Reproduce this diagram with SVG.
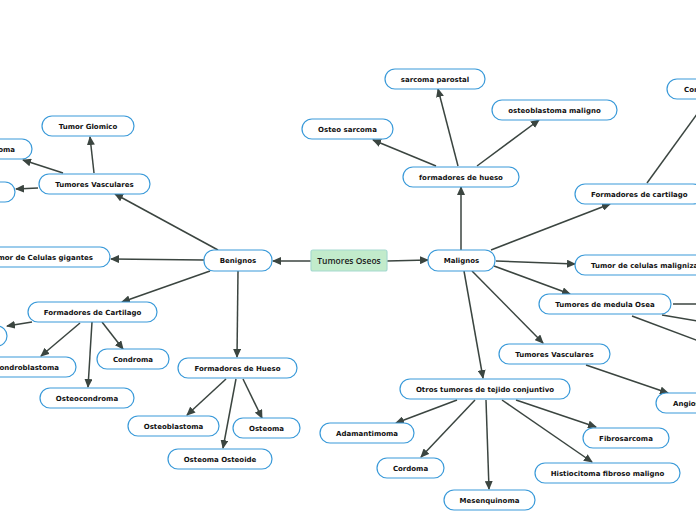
<svg xmlns="http://www.w3.org/2000/svg" width="696" height="520" viewBox="0 0 696 520">
<defs>
<marker id="ah" markerUnits="userSpaceOnUse" markerWidth="9" markerHeight="8" refX="8" refY="4" orient="auto">
<path d="M0,0 L9,4 L0,8 z" fill="#3b4540"/>
</marker>
</defs>
<style>
.n rect{fill:#fff;stroke:#3a9ad9;stroke-width:1.2}
.n text{font-family:"DejaVu Sans",Verdana,sans-serif;font-weight:bold;font-size:7px;fill:#111;text-anchor:middle}
.n text.s{text-anchor:start}
.n text.e{text-anchor:end}
.c line{stroke:#3b4540;stroke-width:1.5;marker-end:url(#ah)}
.c line.x{marker-end:none}
</style>
<rect width="696" height="520" fill="#fff"/>
<g class="c">
<line x1="311" y1="261" x2="273" y2="261"/>
<line x1="387" y1="261" x2="428" y2="260"/>
<line x1="218" y1="250" x2="115" y2="194"/>
<line x1="94" y1="173" x2="90" y2="137"/>
<line x1="63" y1="173" x2="23" y2="160"/>
<line x1="38" y1="188" x2="16" y2="189"/>
<line x1="204" y1="260" x2="111" y2="259"/>
<line x1="210" y1="271" x2="122" y2="302"/>
<line x1="32" y1="322" x2="7" y2="326"/>
<line x1="80" y1="323" x2="41" y2="356"/>
<line x1="92" y1="322" x2="88" y2="387"/>
<line x1="102" y1="322" x2="123" y2="349"/>
<line x1="238" y1="271" x2="237" y2="357"/>
<line x1="226" y1="379" x2="187" y2="415"/>
<line x1="243" y1="379" x2="262" y2="418"/>
<line x1="236" y1="379" x2="223" y2="448"/>
<line x1="461" y1="250" x2="461" y2="187"/>
<line x1="436" y1="166" x2="373" y2="140"/>
<line x1="458" y1="166" x2="438" y2="89"/>
<line x1="477" y1="166" x2="539" y2="120"/>
<line x1="491" y1="250" x2="610" y2="204"/>
<line x1="647" y1="183" x2="708" y2="99"/>
<line x1="496" y1="261" x2="575" y2="264"/>
<line x1="494" y1="266" x2="570" y2="294"/>
<line class="x" x1="673" y1="304" x2="720" y2="304"/>
<line class="x" x1="662" y1="315" x2="720" y2="325"/>
<line class="x" x1="632" y1="316" x2="720" y2="349"/>
<line x1="472" y1="271" x2="543" y2="343"/>
<line x1="586" y1="365" x2="668" y2="393"/>
<line x1="464" y1="271" x2="483" y2="378"/>
<line x1="457" y1="400" x2="396" y2="423"/>
<line x1="475" y1="400" x2="421" y2="457"/>
<line x1="486" y1="400" x2="489" y2="489"/>
<line x1="502" y1="400" x2="592" y2="462"/>
<line x1="516" y1="400" x2="596" y2="427"/>
</g>
<g id="root">
<rect x="311" y="250" width="76" height="21" rx="2" fill="#c2ebcb" stroke="#a6d9cf" stroke-width="1.2"/>
<text x="349" y="263.5" font-family="'Open Sans',sans-serif" font-weight="600" font-size="8.5" fill="#1a1a1a" text-anchor="middle">Tumores Oseos</text>
</g>
<g id="benignos" class="n"><rect x="204" y="250" width="68" height="21" rx="10"/><text x="238" y="263">Benignos</text></g>
<g id="malignos" class="n"><rect x="428" y="250" width="67" height="21" rx="10"/><text x="461.5" y="263">Malignos</text></g>
<g id="tv-left" class="n"><rect x="39" y="174" width="111" height="20" rx="10"/><text x="94.5" y="186.5">Tumores Vasculares</text></g>
<g id="glomico" class="n"><rect x="42" y="116" width="92" height="20" rx="10"/><text x="88" y="128.5">Tumor Glomico</text></g>
<g id="hemangioma" class="n"><rect x="-54" y="139" width="86" height="20" rx="10"/><text class="e" x="15" y="151.5">Hemangioma</text></g>
<g id="tv-left-2" class="n"><rect x="-50" y="182" width="65" height="20" rx="10"/></g>
<g id="gigantes" class="n"><rect x="-30" y="247" width="140" height="20" rx="10"/><text class="e" x="93" y="259.5">Tumor de Celulas gigantes</text></g>
<g id="fc-left" class="n"><rect x="28" y="302" width="129" height="20" rx="10"/><text x="92.5" y="314.5">Formadores de Cartilago</text></g>
<g id="fc-left-2" class="n"><rect x="-50" y="326" width="57" height="20" rx="10"/></g>
<g id="condroblastoma" class="n"><rect x="-22" y="357" width="98" height="20" rx="10"/><text class="e" x="59" y="369.5">Condroblastoma</text></g>
<g id="osteocondroma" class="n"><rect x="40" y="388" width="94" height="20" rx="10"/><text x="87" y="400.5">Osteocondroma</text></g>
<g id="condroma" class="n"><rect x="97" y="349" width="72" height="20" rx="10"/><text x="133" y="361.5">Condroma</text></g>
<g id="fh-left" class="n"><rect x="178" y="358" width="119" height="20" rx="10"/><text x="237.5" y="370.5">Formadores de Hueso</text></g>
<g id="osteoblastoma" class="n"><rect x="128" y="416" width="91" height="20" rx="10"/><text x="173.5" y="428.5">Osteoblastoma</text></g>
<g id="osteoma" class="n"><rect x="233" y="418" width="67" height="20" rx="10"/><text x="266.5" y="430.5">Osteoma</text></g>
<g id="osteoide" class="n"><rect x="168" y="449" width="104" height="20" rx="10"/><text x="220" y="461.5">Osteoma Osteoide</text></g>
<g id="fh-right" class="n"><rect x="403" y="167" width="116" height="20" rx="10"/><text x="461" y="179.5">formadores de hueso</text></g>
<g id="osteosarcoma" class="n"><rect x="302" y="119" width="91" height="20" rx="10"/><text x="347.5" y="131.5">Osteo sarcoma</text></g>
<g id="parostal" class="n"><rect x="385" y="69" width="100" height="20" rx="10"/><text x="435" y="81.5">sarcoma parostal</text></g>
<g id="ob-maligno" class="n"><rect x="492" y="100" width="125" height="20" rx="10"/><text x="554.5" y="112.5">osteoblastoma maligno</text></g>
<g id="fc-right" class="n"><rect x="575" y="184" width="128" height="20" rx="10"/><text class="s" x="591" y="196.5">Formadores de cartilago</text></g>
<g id="condrosarcoma" class="n"><rect x="667" y="79" width="100" height="20" rx="10"/><text class="s" x="684" y="91.5">Condrosarcoma</text></g>
<g id="malignizadas" class="n"><rect x="575" y="255" width="160" height="20" rx="10"/><text class="s" x="591" y="267.5">Tumor de celulas malignizadas</text></g>
<g id="medula" class="n"><rect x="539" y="294" width="132" height="20" rx="10"/><text x="605" y="306.5">Tumores de medula Osea</text></g>
<g id="tv-right" class="n"><rect x="499" y="344" width="111" height="20" rx="10"/><text x="554.5" y="356.5">Tumores Vasculares</text></g>
<g id="angiosarcoma" class="n"><rect x="656" y="393" width="100" height="20" rx="10"/><text class="s" x="673" y="405.5">Angiosarcoma</text></g>
<g id="otros" class="n"><rect x="400" y="379" width="170" height="20" rx="10"/><text x="485" y="391.5">Otros tumores de tejido conjuntivo</text></g>
<g id="adamantimoma" class="n"><rect x="320" y="423" width="94" height="20" rx="10"/><text x="367" y="435.5">Adamantimoma</text></g>
<g id="cordoma" class="n"><rect x="377" y="458" width="67" height="20" rx="10"/><text x="410.5" y="470.5">Cordoma</text></g>
<g id="mesenquinoma" class="n"><rect x="444" y="490" width="91" height="20" rx="10"/><text x="489.5" y="502.5">Mesenquinoma</text></g>
<g id="histiocitoma" class="n"><rect x="535" y="463" width="145" height="20" rx="10"/><text x="607.5" y="475.5">Histiocitoma fibroso maligno</text></g>
<g id="fibrosarcoma" class="n"><rect x="583" y="428" width="86" height="20" rx="10"/><text x="626" y="440.5">Fibrosarcoma</text></g>
</svg>
